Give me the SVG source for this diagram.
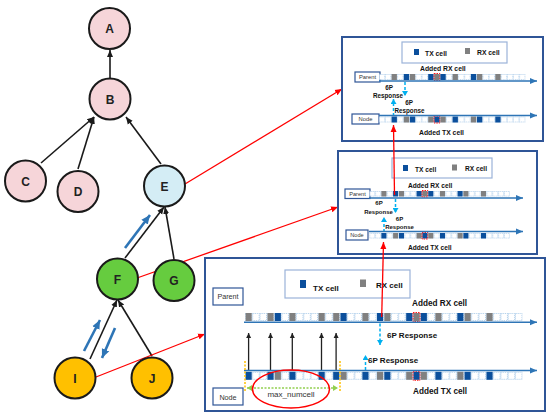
<svg xmlns="http://www.w3.org/2000/svg" width="550" height="417" viewBox="0 0 550 417">
<style>
text{font-family:"Liberation Sans",Arial,sans-serif;}
.nd{stroke:#1a1a1a;stroke-width:2;}
.pk{fill:#f6d5d9}.bl{fill:#d4edf5}.gr{fill:#66cc3f}.yl{fill:#ffc000}
.lbl{font-size:12px;font-weight:bold;fill:#222;text-anchor:middle}
.edge{stroke:#1a1a1a;stroke-width:1.6;fill:none;marker-end:url(#ab)}
.barr{stroke:#2e75b6;stroke-width:2.6;fill:none;marker-end:url(#abl)}
.red{stroke:#ff0000;stroke-width:1.3;fill:none;marker-end:url(#ar)}
.panel{fill:#fff;stroke:#2f5597;stroke-width:2}
.leg{fill:#fff;stroke:#9bb3d9;stroke-width:1.2}
.box{fill:#fff;stroke:#2f5597;stroke-width:1.2}
.tl{stroke:#2e75b6;stroke-width:1.6;fill:none;marker-end:url(#at)}
.tx{fill:#0b4f9c}.rx{fill:#808080}
.rc{fill:none;stroke:#ff0000;stroke-width:0.9;stroke-dasharray:1.5 1}
.cy{stroke:#00b0f0;stroke-width:1.5;stroke-dasharray:3 2;fill:none;marker-end:url(#ac)}
.bk{stroke:#222;stroke-width:1.3;fill:none;marker-end:url(#ak)}
.b{font-weight:bold;fill:#111}
.n{fill:#333}
</style>
<defs>
<marker id="ab" markerUnits="userSpaceOnUse" markerWidth="8" markerHeight="8" refX="7" refY="4" orient="auto"><path d="M0,1 L7,4 L0,7 z" fill="#1a1a1a"/></marker>
<marker id="abl" markerUnits="userSpaceOnUse" markerWidth="10" markerHeight="10" refX="9" refY="5" orient="auto"><path d="M0,1 L9,5 L0,9 z" fill="#2e75b6"/></marker>
<marker id="ar" markerUnits="userSpaceOnUse" markerWidth="8" markerHeight="8" refX="7" refY="4" orient="auto"><path d="M0,1 L7,4 L0,7 z" fill="#ff0000"/></marker>
<marker id="at" markerUnits="userSpaceOnUse" markerWidth="8" markerHeight="8" refX="7" refY="4" orient="auto"><path d="M0,1 L7,4 L0,7 z" fill="#2e75b6"/></marker>
<marker id="ac" markerUnits="userSpaceOnUse" markerWidth="6" markerHeight="6" refX="5" refY="3" orient="auto"><path d="M0,0 L5,3 L0,6 z" fill="#00b0f0"/></marker>
<marker id="ak" markerUnits="userSpaceOnUse" markerWidth="6" markerHeight="6" refX="5" refY="3" orient="auto"><path d="M0,0.5 L5,3 L0,5.5 z" fill="#222"/></marker>
<marker id="ag" markerUnits="userSpaceOnUse" markerWidth="6" markerHeight="6" refX="5" refY="3" orient="auto-start-reverse"><path d="M0,0 L5,3 L0,6 z" fill="#92d050"/></marker>
<pattern id="p3" patternUnits="objectBoundingBox" x="0" y="0" width="0.0263158" height="1"><rect x="0.4" y="0.4" width="6.5" height="7.2" fill="#fff" stroke="#9dc3e6" stroke-width="0.8" stroke-dasharray="1.2 0.8"/></pattern>
<pattern id="p1" patternUnits="objectBoundingBox" x="0" y="0" width="0.0416667" height="1"><rect x="0.4" y="0.4" width="5.3" height="5.2" fill="#fff" stroke="#9dc3e6" stroke-width="0.7" stroke-dasharray="1 0.7"/></pattern>
<pattern id="p2" patternUnits="objectBoundingBox" x="0" y="0" width="0.0416667" height="1"><rect x="0.4" y="0.4" width="5.06" height="4.7" fill="#fff" stroke="#9dc3e6" stroke-width="0.7" stroke-dasharray="1 0.7"/></pattern>
</defs>

<g id="connectors">
<line class="edge" x1="110" y1="78" x2="110" y2="50"/>
<line class="edge" x1="41" y1="163" x2="94" y2="117"/>
<line class="edge" x1="78" y1="169" x2="94" y2="117"/>
<line class="edge" x1="161" y1="164" x2="126" y2="117"/>
<line class="edge" x1="125" y1="258" x2="164" y2="207"/>
<line class="edge" x1="174" y1="259" x2="165" y2="207"/>
<line class="edge" x1="90" y1="359" x2="117" y2="300"/>
<line class="edge" x1="152" y1="356" x2="118" y2="300"/>
<line class="barr" x1="125" y1="248" x2="150" y2="215"/>
<line class="barr" x1="84" y1="351" x2="100" y2="320"/>
<line class="barr" x1="115" y1="328" x2="102" y2="358"/>
<line class="red" x1="185" y1="184" x2="342" y2="89"/>
<line class="red" x1="137" y1="278" x2="338" y2="207"/>
<line class="red" x1="96" y1="377" x2="205" y2="334"/>
</g>

<g id="node-A"><circle class="nd pk" cx="109.5" cy="28.5" r="20.5"/><text class="lbl" x="109.5" y="33">A</text></g>
<g id="node-B"><circle class="nd pk" cx="110" cy="99" r="20.5"/><text class="lbl" x="110" y="103.5">B</text></g>
<g id="node-C"><circle class="nd pk" cx="25.5" cy="181" r="20.5"/><text class="lbl" x="25.5" y="185.5">C</text></g>
<g id="node-D"><circle class="nd pk" cx="78" cy="191.5" r="20.5"/><text class="lbl" x="78" y="196">D</text></g>
<g id="node-E"><circle class="nd bl" cx="164.5" cy="186" r="20.5"/><text class="lbl" x="164.5" y="190.5">E</text></g>
<g id="node-F"><circle class="nd gr" cx="117.5" cy="279" r="20.5"/><text class="lbl" x="117.5" y="283.5">F</text></g>
<g id="node-G"><circle class="nd gr" cx="174" cy="280.5" r="20.5"/><text class="lbl" x="174" y="285">G</text></g>
<g id="node-I"><circle class="nd yl" cx="75" cy="378" r="20.5"/><text class="lbl" x="75" y="382.5">I</text></g>
<g id="node-J"><circle class="nd yl" cx="152" cy="378" r="20.5"/><text class="lbl" x="152" y="382.5">J</text></g>

<!-- Panel 1 -->
<g id="panel-1">
<rect class="panel" x="342" y="37" width="201" height="104"/>
<rect class="leg" x="402" y="42" width="105" height="21"/>
<rect class="tx" x="414" y="49" width="5" height="6"/><text class="b" x="425" y="56" font-size="6.8">TX cell</text>
<rect class="rx" x="465" y="48" width="5" height="6"/><text class="b" x="477" y="55" font-size="6.8">RX cell</text>
<text class="b" x="420" y="71" font-size="6.8">Added RX cell</text>
<rect class="box" x="355" y="72" width="25" height="10"/><text class="n" x="367.5" y="79.3" font-size="5.8" text-anchor="middle">Parent</text>
<rect x="379" y="74" width="146.4" height="6" fill="url(#p1)"/>
<rect class="rx" x="391.6" y="74" width="5.3" height="6"/><rect class="tx" x="403.8" y="74" width="5.3" height="6"/><rect class="rx" x="409.9" y="74" width="5.3" height="6"/>
<rect class="tx" x="428.2" y="74" width="5.3" height="6"/><rect class="rx" x="434.3" y="74" width="5.3" height="6"/><rect class="rc" x="434" y="73.5" width="5.9" height="7"/><rect class="tx" x="440.4" y="74" width="5.3" height="6"/>
<rect class="rx" x="452.6" y="74" width="5.3" height="6"/><rect class="tx" x="470.9" y="74" width="5.3" height="6"/><rect class="rx" x="477" y="74" width="5.3" height="6"/><rect class="rx" x="495.3" y="74" width="5.3" height="6"/>
<line class="tl" x1="379" y1="81" x2="537" y2="81"/>
<line class="cy" x1="405" y1="82" x2="405" y2="96"/>
<text class="b" x="389" y="89.5" font-size="6.3" text-anchor="middle">6P</text>
<text class="b" x="388" y="98" font-size="6.3" text-anchor="middle">Response</text>
<line class="cy" x1="393.5" y1="116" x2="393.5" y2="99"/>
<text class="b" x="409" y="104.5" font-size="6.3" text-anchor="middle">6P</text>
<text class="b" x="409.5" y="113" font-size="6.3" text-anchor="middle">Response</text>
<rect class="box" x="352" y="114" width="27" height="10"/><text class="n" x="365.5" y="121.3" font-size="5.8" text-anchor="middle">Node</text>
<rect x="379" y="116.5" width="146.4" height="6" fill="url(#p1)"/>
<rect class="tx" x="391.6" y="116.5" width="5.3" height="6"/><rect class="rx" x="403.8" y="116.5" width="5.3" height="6"/><rect class="tx" x="409.9" y="116.5" width="5.3" height="6"/>
<rect class="rx" x="428.2" y="116.5" width="5.3" height="6"/><rect class="tx" x="434.3" y="116.5" width="5.3" height="6"/><rect class="rc" x="434" y="116" width="5.9" height="7"/><rect class="rx" x="440.4" y="116.5" width="5.3" height="6"/>
<rect class="tx" x="452.6" y="116.5" width="5.3" height="6"/><rect class="rx" x="470.9" y="116.5" width="5.3" height="6"/><rect class="tx" x="477" y="116.5" width="5.3" height="6"/><rect class="tx" x="495.3" y="116.5" width="5.3" height="6"/>
<line class="tl" x1="379" y1="115.5" x2="537" y2="115.5"/>
<text class="b" x="419" y="134.5" font-size="6.8">Added TX cell</text>
</g>

<!-- Panel 2 -->
<g id="panel-2">
<rect class="panel" x="338" y="151" width="199" height="103"/>
<rect class="leg" x="392" y="158" width="100" height="20"/>
<rect class="tx" x="403" y="165" width="5" height="6"/><text class="b" x="415" y="172" font-size="6.6">TX cell</text>
<rect class="rx" x="452" y="164.5" width="5" height="6"/><text class="b" x="465" y="170.5" font-size="6.6">RX cell</text>
<text class="b" x="408" y="187.5" font-size="6.6">Added RX cell</text>
<rect class="box" x="345" y="189" width="25" height="9.5"/><text class="n" x="357.5" y="196" font-size="5.6" text-anchor="middle">Parent</text>
<rect x="369.3" y="191" width="140.6" height="5.5" fill="url(#p2)"/>
<rect class="rx" x="381.4" y="191" width="5" height="5.5"/><rect class="tx" x="393.1" y="191" width="5" height="5.5"/><rect class="rx" x="399" y="191" width="5" height="5.5"/>
<rect class="tx" x="416.6" y="191" width="5" height="5.5"/><rect class="rx" x="422.4" y="191" width="5" height="5.5"/><rect class="rc" x="422" y="190.5" width="5.8" height="6.5"/><rect class="tx" x="428.3" y="191" width="5" height="5.5"/>
<rect class="rx" x="440" y="191" width="5" height="5.5"/><rect class="tx" x="457.6" y="191" width="5" height="5.5"/><rect class="rx" x="463.4" y="191" width="5" height="5.5"/><rect class="rx" x="481" y="191" width="5" height="5.5"/>
<line class="tl" x1="369" y1="198" x2="523" y2="198"/>
<line class="cy" x1="395.5" y1="199" x2="395.5" y2="213"/>
<text class="b" x="379" y="204.5" font-size="6" text-anchor="middle">6P</text>
<text class="b" x="378.5" y="214" font-size="6" text-anchor="middle">Response</text>
<line class="cy" x1="384" y1="232" x2="384" y2="217"/>
<text class="b" x="399.5" y="220.5" font-size="6" text-anchor="middle">6P</text>
<text class="b" x="399.5" y="229" font-size="6" text-anchor="middle">Response</text>
<rect class="box" x="346" y="230" width="22" height="10"/><text class="n" x="357" y="237.3" font-size="5.6" text-anchor="middle">Node</text>
<rect x="369.3" y="233" width="140.6" height="5.5" fill="url(#p2)"/>
<rect class="tx" x="381.4" y="233" width="5" height="5.5"/><rect class="rx" x="393.1" y="233" width="5" height="5.5"/><rect class="tx" x="399" y="233" width="5" height="5.5"/>
<rect class="rx" x="416.6" y="233" width="5" height="5.5"/><rect class="tx" x="422.4" y="233" width="5" height="5.5"/><rect class="rc" x="422" y="232.5" width="5.8" height="6.5"/><rect class="rx" x="428.3" y="233" width="5" height="5.5"/>
<rect class="tx" x="440" y="233" width="5" height="5.5"/><rect class="rx" x="457.6" y="233" width="5" height="5.5"/><rect class="tx" x="463.4" y="233" width="5" height="5.5"/><rect class="tx" x="481" y="233" width="5" height="5.5"/>
<line class="tl" x1="369" y1="231.5" x2="523" y2="231.5"/>
<text class="b" x="408" y="249.5" font-size="6.6">Added TX cell</text>
</g>

<!-- Panel 3 -->
<g id="panel-3">
<rect class="panel" x="205" y="258" width="340" height="153"/>
<rect class="leg" x="285" y="270" width="125" height="28"/>
<rect class="tx" x="300" y="280" width="6" height="8"/><text class="b" x="313" y="290.5" font-size="8">TX cell</text>
<rect class="rx" x="360" y="279.5" width="6" height="7.5"/><text class="b" x="376" y="288" font-size="8">RX cell</text>
<rect class="box" x="213" y="288" width="30" height="17"/><text class="n" x="228" y="299" font-size="7.2" text-anchor="middle">Parent</text>
<text class="b" x="412" y="306" font-size="8.2">Added RX cell</text>
<rect x="245" y="313" width="277.4" height="8" fill="url(#p3)"/>
<rect class="rx" x="245.6" y="313" width="6.1" height="8"/><rect class="rx" x="267.5" y="313" width="6.1" height="8"/><rect class="tx" x="274.8" y="313" width="6.1" height="8"/><rect class="rx" x="289.4" y="313" width="6.1" height="8"/>
<rect class="rx" x="318.6" y="313" width="6.1" height="8"/><rect class="rx" x="333.2" y="313" width="6.1" height="8"/><rect class="tx" x="340.5" y="313" width="6.1" height="8"/><rect class="rx" x="362.4" y="313" width="6.1" height="8"/>
<rect class="tx" x="377" y="313" width="6.1" height="8"/><rect class="rx" x="384.3" y="313" width="6.1" height="8"/><rect class="tx" x="406.2" y="313" width="6.1" height="8"/><rect class="rx" x="413.5" y="313" width="6.1" height="8"/><rect class="rc" x="413" y="312.5" width="7" height="9"/>
<rect class="tx" x="420.8" y="313" width="6.1" height="8"/><rect class="rx" x="435.4" y="313" width="6.1" height="8"/><rect class="tx" x="457.3" y="313" width="6.1" height="8"/><rect class="rx" x="464.6" y="313" width="6.1" height="8"/><rect class="rx" x="486.5" y="313" width="6.1" height="8"/>
<line class="tl" x1="244" y1="322.3" x2="537" y2="322.3"/>
<line class="cy" x1="380" y1="323.5" x2="380" y2="345"/>
<text class="b" x="387" y="338" font-size="8">6P Response</text>
<line class="cy" x1="365.5" y1="370" x2="365.5" y2="355"/>
<text class="b" x="368" y="363" font-size="8">6P Response</text>
<line class="bk" x1="248.6" y1="370" x2="248.6" y2="333"/>
<line class="bk" x1="270.5" y1="370" x2="270.5" y2="333"/>
<line class="bk" x1="292.3" y1="370" x2="292.3" y2="333"/>
<line class="bk" x1="321.5" y1="370" x2="321.5" y2="333"/>
<line class="bk" x1="336.1" y1="370" x2="336.1" y2="333"/>
<rect x="245" y="371.8" width="277.4" height="8" fill="url(#p3)"/>
<rect class="tx" x="245.6" y="371.8" width="6.1" height="8"/><rect class="tx" x="267.5" y="371.8" width="6.1" height="8"/><rect class="rx" x="274.8" y="371.8" width="6.1" height="8"/><rect class="tx" x="289.4" y="371.8" width="6.1" height="8"/>
<rect class="tx" x="318.6" y="371.8" width="6.1" height="8"/><rect class="tx" x="333.2" y="371.8" width="6.1" height="8"/><rect class="rx" x="340.5" y="371.8" width="6.1" height="8"/><rect class="tx" x="362.4" y="371.8" width="6.1" height="8"/>
<rect class="rx" x="377" y="371.8" width="6.1" height="8"/><rect class="tx" x="384.3" y="371.8" width="6.1" height="8"/><rect class="rx" x="406.2" y="371.8" width="6.1" height="8"/><rect class="tx" x="413.5" y="371.8" width="6.1" height="8"/><rect class="rc" x="413" y="371.3" width="7" height="9"/>
<rect class="rx" x="420.8" y="371.8" width="6.1" height="8"/><rect class="tx" x="435.4" y="371.8" width="6.1" height="8"/><rect class="rx" x="457.3" y="371.8" width="6.1" height="8"/><rect class="tx" x="464.6" y="371.8" width="6.1" height="8"/><rect class="tx" x="486.5" y="371.8" width="6.1" height="8"/>
<line class="tl" x1="244" y1="370.5" x2="537" y2="370.5"/>
<line x1="245" y1="361" x2="245" y2="392" stroke="#ffc000" stroke-width="1.5" stroke-dasharray="2 1.5"/>
<line x1="340" y1="361" x2="340" y2="392" stroke="#ffc000" stroke-width="1.5" stroke-dasharray="2 1.5"/>
<line x1="247" y1="388" x2="338" y2="388" stroke="#92d050" stroke-width="1.5" stroke-dasharray="2 1.5" marker-start="url(#ag)" marker-end="url(#ag)"/>
<ellipse cx="291" cy="389" rx="38.5" ry="19" fill="none" stroke="#ff0000" stroke-width="1.5"/>
<text x="291" y="396.5" font-size="8" fill="#333" text-anchor="middle">max_numcell</text>
<rect class="box" x="213" y="388" width="30" height="17"/><text class="n" x="228" y="399.5" font-size="7.2" text-anchor="middle">Node</text>
<text class="b" x="413" y="394" font-size="8.2">Added TX cell</text>
</g>

<g id="cross-arrows">
<line class="red" x1="381.7" y1="317" x2="383.5" y2="242"/>
<line class="red" x1="394.5" y1="195" x2="393.5" y2="125"/>
</g>
</svg>
